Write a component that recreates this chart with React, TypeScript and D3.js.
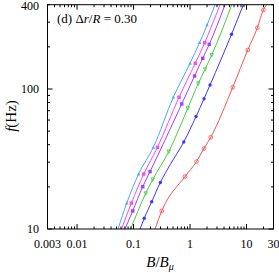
import React from 'react';
import * as d3 from 'd3';

// Axis ticks
const xMajorTicks = [0.01, 0.1, 1, 10];
const xMinorTicks = [0.003, 0.004, 0.005, 0.006, 0.007, 0.008, 0.009, 0.02, 0.03, 0.04, 0.05, 0.06, 0.07, 0.08, 0.09, 0.2, 0.3, 0.4, 0.5, 0.6, 0.7, 0.8, 0.9, 2, 3, 4, 5, 6, 7, 8, 9, 20, 30];
const xTickValues = [0.003, 0.01, 0.1, 1, 10, 30];
const xTickLabels = ['0.003', '0.01', '0.1', '1', '10', '30'];
const yMajorTicks = [10, 100];
const yMinorTicks = [20, 30, 40, 50, 60, 70, 80, 90, 200, 300, 400];
const yTickValues = [10, 100, 400];
const yTickLabels = ['10', '100', '400'];

// Series (B/B_mu, f in Hz)
const lightBlueB = [0.0532, 0.0758, 0.1226, 0.2241, 0.506, 1.0, 1.473, 2.0, 2.77];
const lightBlueF = [10, 15.3, 24.7, 38.3, 87.3, 152.6, 214, 286.4, 400];
const magentaB = [0.0613, 0.0914, 0.1515, 0.265, 0.639, 1.236, 1.82, 2.45, 3.40];
const magentaF = [10, 15.3, 24.7, 38.3, 87.3, 152.6, 214, 286.4, 400];
const purpleB = [0.0707, 0.0968, 0.1455, 0.1959, 0.361, 0.713, 1.201, 1.678, 2.187, 4.164];
const purpleF = [10, 13.45, 20.05, 25.7, 43.2, 78.2, 123.8, 165.7, 208.5, 400];
const greenB = [0.0885, 0.1644, 0.2187, 0.4215, 0.911, 1.403, 1.843, 2.421, 5.47];
const greenF = [10, 17.98, 22.6, 35.8, 72.8, 109.8, 138.3, 175, 400];
const blueB = [0.1303, 0.1546, 0.2100, 0.2980, 0.4426, 0.7737, 1.277, 1.769, 2.259, 5.426, 8.78];
const blueF = [10, 11.92, 15.67, 21.5, 28.7, 41.8, 63.6, 85.2, 106.8, 246, 400];
const redB = [0.2402, 0.3155, 0.8155, 1.303, 1.769, 2.325, 5.70, 10.5, 15.53, 19.83, 22.8];
const redF = [10, 13.45, 23.7, 30.35, 37.6, 45.2, 102.8, 189.9, 274, 366.7, 400];

// which interior points carry a marker
const lightBlueMarks = [1, 2, 3, 4, 5, 6, 7];
const magentaMarks = [1, 2, 3, 4, 5, 6];
const purpleMarks = [1, 2, 3, 5, 6, 7, 8];
const greenMarks = [1, 2, 3, 4, 5, 6, 7];
const blueMarks = [1, 2, 3, 5, 6, 7, 8, 9];
const redMarks = [1, 2, 3, 4, 5, 6, 7, 8, 9];

const seriesB = [lightBlueB, magentaB, purpleB, greenB, blueB, redB];
const seriesF = [lightBlueF, magentaF, purpleF, greenF, blueF, redF];
const seriesMarks = [lightBlueMarks, magentaMarks, purpleMarks, greenMarks, blueMarks, redMarks];
const seriesColors = ['#4da6ff', '#ff44ff', '#a040ff', '#44cc44', '#3a3aff', '#f05555'];
const seriesMarkers = ['triangle', 'square', 'square', 'triangleDown', 'circle', 'openCircle'];

const W = 279, H = 273;
const L = 47.5, R = 273.5, T = 4.7, B = 229;

export default function App() {
  const x = d3.scaleLog().domain([0.003, 30]).range([L, R]);
  const y = d3.scaleLog().domain([10, 400]).range([B, T]);
  const line = d3.line<[number, number]>()
    .x(d => x(d[0]))
    .y(d => y(d[1]))
    .curve(d3.curveMonotoneX);

  const font = "'Liberation Serif', 'Times New Roman', serif";

  const marker = (type: string, cx: number, cy: number, color: string, key: string) => {
    const s = 1.7;
    switch (type) {
      case 'triangle':
        return <path key={key} d={`M${cx},${cy - s * 1.1}L${cx + s},${cy + s * 0.8}L${cx - s},${cy + s * 0.8}Z`} fill={color} />;
      case 'triangleDown':
        return <path key={key} d={`M${cx},${cy + s * 1.2}L${cx + s},${cy - s * 0.9}L${cx - s},${cy - s * 0.9}Z`} fill="none" stroke={color} strokeWidth={0.8} />;
      case 'square':
        return <rect key={key} x={cx - s} y={cy - s} width={2 * s} height={2 * s} fill={color} />;
      case 'circle':
        return <circle key={key} cx={cx} cy={cy} r={s} fill={color} />;
      default:
        return (
          <g key={key}>
            <circle cx={cx} cy={cy} r={s + 0.2} fill="none" stroke={color} strokeWidth={0.8} />
            <circle cx={cx} cy={cy} r={0.6} fill={color} />
          </g>
        );
    }
  };

  return (
    <svg width={W} height={H} style={{ position: 'absolute', left: 0, top: 0 }}>
      <defs>
        <clipPath id="plotclip">
          <rect x={L} y={T} width={R - L} height={B - T} />
        </clipPath>
      </defs>
      <rect width={W} height={H} fill="#fff" />
      <g clipPath="url(#plotclip)">
        {seriesB.map((bs, i) => {
          const pts = bs.map((b, j) => [b, seriesF[i][j]] as [number, number]);
          return (
            <g key={i}>
              <path d={line(pts) || ''} fill="none" stroke={seriesColors[i]} strokeWidth={1} />
              {seriesMarks[i].map(j =>
                marker(seriesMarkers[i], x(pts[j][0]), y(pts[j][1]), seriesColors[i], `m${i}-${j}`)
              )}
            </g>
          );
        })}
      </g>
      {/* frame */}
      <rect x={L} y={T} width={R - L} height={B - T} fill="none" stroke="#000" strokeWidth={1} />
      {/* x ticks */}
      {xMajorTicks.map(v => (
        <g key={'xM' + v}>
          <line x1={x(v)} x2={x(v)} y1={B} y2={B - 5} stroke="#000" />
          <line x1={x(v)} x2={x(v)} y1={T} y2={T + 5} stroke="#000" />
        </g>
      ))}
      {xMinorTicks.map(v => (
        <g key={'xm' + v}>
          <line x1={x(v)} x2={x(v)} y1={B} y2={B - 2.5} stroke="#000" />
          <line x1={x(v)} x2={x(v)} y1={T} y2={T + 2.5} stroke="#000" />
        </g>
      ))}
      {yMajorTicks.map(v => (
        <g key={'yM' + v}>
          <line x1={L} x2={L + 5} y1={y(v)} y2={y(v)} stroke="#000" />
          <line x1={R} x2={R - 5} y1={y(v)} y2={y(v)} stroke="#000" />
        </g>
      ))}
      {yMinorTicks.map(v => (
        <g key={'ym' + v}>
          <line x1={L} x2={L + 2.5} y1={y(v)} y2={y(v)} stroke="#000" />
          <line x1={R} x2={R - 2.5} y1={y(v)} y2={y(v)} stroke="#000" />
        </g>
      ))}
      {/* tick labels */}
      {xTickValues.map((v, i) => (
        <text key={'xl' + i} x={x(v)} y={248} textAnchor="middle" fontFamily={font} fontSize={12} fill="#000">
          {xTickLabels[i]}
        </text>
      ))}
      {yTickValues.map((v, i) => (
        <text key={'yl' + i} x={39} y={Math.max(y(v) + 4, 10)} textAnchor="end" fontFamily={font} fontSize={12} fill="#000">
          {yTickLabels[i]}
        </text>
      ))}
      {/* axis titles */}
      <text x={160} y={267} textAnchor="middle" fontFamily={font} fontSize={15} fill="#000">
        <tspan fontStyle="italic">B</tspan>
        <tspan>/</tspan>
        <tspan fontStyle="italic">B</tspan>
        <tspan fontStyle="italic" fontSize={10} dy={3}>μ</tspan>
      </text>
      <text transform="translate(16,116) rotate(-90)" textAnchor="middle" fontFamily={font} fontSize={15} fill="#000">
        <tspan fontStyle="italic">f</tspan>
        <tspan>(Hz)</tspan>
      </text>
      {/* annotation */}
      <text x={57} y={23} fontFamily={font} fontSize={13} fill="#000">
        <tspan>(d) Δ</tspan>
        <tspan fontStyle="italic">r</tspan>
        <tspan>/</tspan>
        <tspan fontStyle="italic">R</tspan>
        <tspan> = 0.30</tspan>
      </text>
    </svg>
  );
}
